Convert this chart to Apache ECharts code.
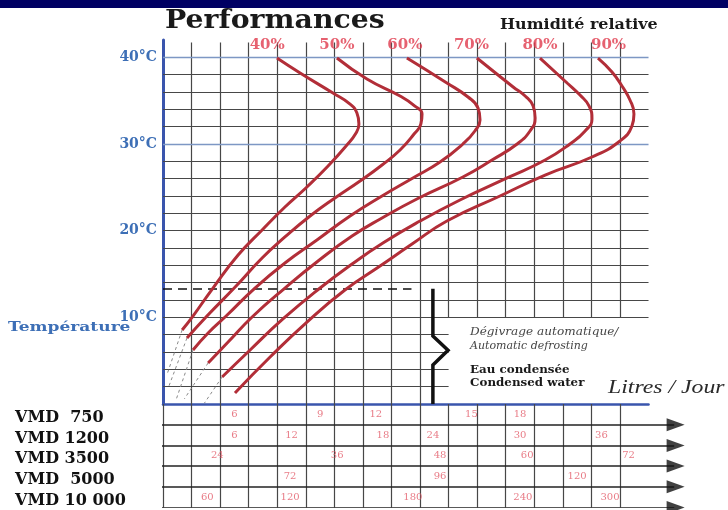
<!DOCTYPE html>
<html><head><meta charset="utf-8">
<script src="https://cdn.jsdelivr.net/npm/echarts@6/dist/echarts.min.js"></script>
<style>html,body{margin:0;padding:0;background:#fff}#c{width:728px;height:510px}</style>
</head><body><div id="c"></div>
<script>
// ---- data ----
const humidity = ['40%', '50%', '60%', '70%', '80%', '90%'];
const humidityLabelX = [3.65, 6.09, 8.47, 10.8, 13.2, 15.6];
// curves: [column (litres/day scale), temperature °C], from the 40 °C start down to the low end
const rh40 = [[3.99,39.92],[4.80,38.19],[5.95,35.88],[6.55,34.61],[6.79,33.58],[6.86,32.31],[6.76,31.27],[6.41,29.77],[5.78,27.46],[5.04,25.04],[4.27,22.73],[3.47,20.08],[2.63,17.19],[1.75,13.38],[1.05,10.15],[0.67,8.54]];
const rh50 = [[6.09,39.92],[7.14,37.50],[8.30,35.54],[8.82,34.38],[9.07,33.46],[9.03,32.31],[8.79,31.15],[8.30,29.31],[7.67,27.58],[6.90,25.73],[6.02,23.77],[5.15,21.69],[4.27,19.27],[3.47,16.85],[2.56,13.61],[1.54,10.15],[0.84,7.62]];
const rh60 = [[8.54,39.92],[9.94,37.04],[10.68,35.42],[11.03,34.15],[11.10,32.77],[10.92,31.50],[10.50,30.00],[9.70,27.92],[8.75,26.08],[7.67,24.00],[6.55,21.69],[5.39,18.92],[4.27,16.27],[3.22,13.38],[2.21,10.15],[1.58,8.19],[1.05,6.23]];
const rh70 = [[10.99,39.92],[12.26,36.58],[12.68,35.54],[12.96,34.38],[13.03,33.00],[12.85,31.50],[12.40,30.00],[11.52,28.15],[10.50,26.19],[8.89,23.65],[7.67,21.46],[6.62,19.38],[5.43,16.50],[4.27,13.38],[3.12,10.04],[2.28,7.15],[1.58,4.73]];
const rh80 = [[13.20,39.92],[14.15,37.04],[14.60,35.65],[14.92,34.38],[15.02,32.88],[14.78,31.50],[14.25,30.00],[13.38,28.15],[12.05,26.08],[10.40,23.54],[9.00,21.11],[7.70,18.58],[6.62,16.15],[5.50,13.38],[4.20,9.81],[3.05,6.23],[2.07,3.12]];
const rh90 = [[15.23,39.92],[15.72,38.31],[16.07,36.69],[16.35,35.08],[16.49,33.46],[16.42,32.08],[16.00,30.35],[15.02,28.50],[13.38,26.42],[11.80,24.00],[9.94,21.11],[8.72,18.46],[7.60,15.92],[6.37,13.15],[5.04,9.46],[3.75,5.42],[2.52,1.27]];
// dashed extrapolations below the curve ends
const ext40 = [[0.67,8.54],[0.15,3.5]];
const ext50 = [[0.84,7.62],[0.2,2.0]];
const ext60 = [[1.05,6.23],[0.45,0.4]];
const ext70 = [[1.58,4.73],[0.75,0.6]];
const ext80 = [[2.07,3.12],[1.45,0.1]];
const tempTicks = [10, 20, 30, 40];
const defrostTemp = 13.3;
// table
const models = ['VMD  750', 'VMD 1200', 'VMD 3500', 'VMD  5000', 'VMD 10 000'];
const litres750 = [6, 9, 12, 15, 18];
const cols750 = [2.5, 5.5, 7.45, 10.8, 12.5];
const litres1200 = [6, 12, 18, 24, 30, 36];
const cols1200 = [2.5, 4.5, 7.7, 9.45, 12.5, 15.35];
const litres3500 = [24, 36, 48, 60, 72];
const cols3500 = [1.9, 6.1, 9.7, 12.75, 16.3];
const litres5000 = [72, 96, 120];
const cols5000 = [4.45, 9.7, 14.5];
const litres10000 = [60, 120, 180, 240, 300];
const cols10000 = [1.55, 4.45, 8.75, 12.6, 15.65];

// ---- chart ----
const U = 28.56; // px per column
const curves = [rh40, rh50, rh60, rh70, rh80, rh90];
const exts = [ext40, ext50, ext60, ext70, ext80];
const tableRows = [[litres750, cols750], [litres1200, cols1200], [litres3500, cols3500], [litres5000, cols5000], [litres10000, cols10000]];

const gridColor = '#474747';
const blue = '#3a55ad';
const gridSegs = [];
for (let c = 1; c <= 16; c++) {
  gridSegs.push({coords: [[c, c <= 9 ? 0 : 10], [c, 41.7]]});
}
for (let t = 2; t <= 40; t += 2) {
  const lw = t % 10 === 0 && t >= 30 ? {color: '#7d97c4', width: 1.4} : {};
  gridSegs.push({coords: [[0, t], [t < 10 ? 10 : 17, t]], lineStyle: lw});
}
const tableSegs = [];
for (let c = 0; c <= 16; c++) tableSegs.push({coords: [[c, 0], [c, 5]]});
for (let r = 1; r <= models.length; r++) tableSegs.push({coords: [[-0.1, r], [17.9, r]], lineStyle: {color: '#222', width: 1.6}});

const series = [];
series.push({type: 'lines', coordinateSystem: 'cartesian2d', xAxisIndex: 0, yAxisIndex: 0, silent: true, z: 1,
  lineStyle: {color: gridColor, width: 1.2, opacity: 1}, data: gridSegs});
series.push({type: 'lines', coordinateSystem: 'cartesian2d', xAxisIndex: 1, yAxisIndex: 2, silent: true, z: 1,
  lineStyle: {color: gridColor, width: 1.2, opacity: 1}, data: tableSegs});
// defrost dashed line and brace
series.push({type: 'lines', coordinateSystem: 'cartesian2d', xAxisIndex: 0, yAxisIndex: 0, silent: true, z: 3,
  lineStyle: {color: '#111', width: 1.6, type: [9, 6], opacity: 1},
  data: [{coords: [[0, defrostTemp], [8.7, defrostTemp]]}]});
series.push({type: 'lines', coordinateSystem: 'cartesian2d', xAxisIndex: 0, yAxisIndex: 0, silent: true, z: 3, polyline: true,
  lineStyle: {color: '#111', width: 3.5, opacity: 1, join: 'miter'},
  data: [{coords: [[9.45, defrostTemp], [9.45, 7.85], [9.98, 6.2], [9.45, 4.5], [9.45, 0]]}]});
// arrows at the end of table rows
series.push({type: 'scatter', xAxisIndex: 1, yAxisIndex: 2, silent: true, z: 4, symbol: 'triangle', symbolRotate: -90,
  symbolSize: [13, 18], itemStyle: {color: '#111'},
  data: models.map((m, i) => [17.95, i + 1])});
// curves
curves.forEach((d, i) => {
  series.push({type: 'line', name: humidity[i], xAxisIndex: 0, yAxisIndex: 0, data: d, smooth: 0.5, showSymbol: false,
    z: 5, lineStyle: {color: '#b22e38', width: 3}, silent: true});
});
exts.forEach((d) => {
  series.push({type: 'line', xAxisIndex: 0, yAxisIndex: 0, data: d, showSymbol: false, z: 4, silent: true,
    lineStyle: {color: '#8a8a8a', width: 1, type: [3, 3]}});
});
// humidity labels
series.push({type: 'scatter', xAxisIndex: 0, yAxisIndex: 0, symbolSize: 0, silent: true, z: 6,
  data: humidity.map((h, i) => ({value: [humidityLabelX[i], 41.4], name: h})),
  label: {show: true, position: 'inside', formatter: p => p.name, color: '#e03a4c', fontSize: 15,
    fontFamily: 'DejaVu Serif', fontWeight: 'bold'}});
// table values
const tableData = [];
tableRows.forEach(([vals, cols], r) => vals.forEach((v, k) => tableData.push([cols[k], r, v])));
series.push({type: 'scatter', xAxisIndex: 1, yAxisIndex: 1, symbolSize: 0, silent: true, z: 6, data: tableData,
  label: {show: true, position: 'inside', formatter: p => String(p.value[2]), color: '#e25a68', fontSize: 10,
    fontFamily: 'DejaVu Serif', padding: [3, 0, 0, 0]}});

const chart = echarts.init(document.getElementById('c'), null, {renderer: 'canvas'});
chart.setOption({
  animation: false,
  backgroundColor: '#fff',
  grid: [
    {left: 163, top: 40, width: 17 * U, height: 364},
    {left: 163, top: 404, width: 18.5 * U, height: 103.5}
  ],
  xAxis: [
    {gridIndex: 0, type: 'value', min: 0, max: 17, axisLine: {show: true, lineStyle: {color: blue, width: 2.5}},
      axisTick: {show: false}, axisLabel: {show: false}, splitLine: {show: false}},
    {gridIndex: 1, type: 'value', min: 0, max: 18.5, show: false, splitLine: {show: false}}
  ],
  yAxis: [
    {gridIndex: 0, type: 'value', min: 0, max: 42, interval: 2,
      axisLine: {show: true, lineStyle: {color: blue, width: 3}}, axisTick: {show: false}, splitLine: {show: false},
      axisLabel: {margin: 6, color: '#3d6fb6', fontSize: 14, fontFamily: 'DejaVu Serif', fontWeight: 'bold',
        formatter: v => tempTicks.indexOf(v) >= 0 ? v + '°C' : ''}},
    {gridIndex: 1, type: 'category', data: models, inverse: true, position: 'left',
      axisLine: {show: false}, axisTick: {show: false}, splitLine: {show: false},
      axisLabel: {interval: 0, align: 'left', margin: 148, color: '#111', fontSize: 16, fontFamily: 'DejaVu Serif', fontWeight: 'bold',
        formatter: v => '{a|' + v + '}', rich: {a: {padding: [7, 0, 0, 0], fontSize: 16, fontFamily: 'DejaVu Serif', fontWeight: 'bold', color: '#111'}}}},
    {gridIndex: 1, type: 'value', min: 0, max: 5, inverse: true, show: false, splitLine: {show: false}}
  ],
  graphic: [
    {type: 'rect', shape: {x: 0, y: 0, width: 728, height: 8}, style: {fill: '#000063'}},
    {type: 'text', x: 165, y: 21, scaleX: 1.09, style: {text: 'Performances', fill: '#1a1a1a',
      font: 'bold 26px "DejaVu Serif"', textAlign: 'left', textVerticalAlign: 'middle'}},
    {type: 'text', x: 500, y: 25, scaleX: 1.14, style: {text: 'Humidité relative', fill: '#1a1a1a',
      font: 'bold 14px "DejaVu Serif"', textAlign: 'left', textVerticalAlign: 'middle'}},
    {type: 'text', x: 8, y: 328, scaleX: 1.42, style: {text: 'Température', fill: '#3d6fb6',
      font: 'bold 12px "DejaVu Serif"', textAlign: 'left', textVerticalAlign: 'middle'}},
    {type: 'text', x: 608, y: 388, scaleX: 1.25, style: {text: 'Litres / Jour', fill: '#2a2a2a',
      font: 'italic 19px "Liberation Serif"', textAlign: 'left', textVerticalAlign: 'middle'}},
    {type: 'text', x: 470, y: 332, scaleX: 1.1, style: {text: 'Dégivrage automatique/', fill: '#444',
      font: 'italic 11px "DejaVu Serif"', textAlign: 'left', textVerticalAlign: 'middle'}},
    {type: 'text', x: 470, y: 346, scaleX: 1.0, style: {text: 'Automatic defrosting', fill: '#444',
      font: 'italic 11px "DejaVu Serif"', textAlign: 'left', textVerticalAlign: 'middle'}},
    {type: 'text', x: 470, y: 370, scaleX: 1.08, style: {text: 'Eau condensée', fill: '#1a1a1a',
      font: 'bold 11px "DejaVu Serif"', textAlign: 'left', textVerticalAlign: 'middle'}},
    {type: 'text', x: 470, y: 383, scaleX: 1.08, style: {text: 'Condensed water', fill: '#1a1a1a',
      font: 'bold 11px "DejaVu Serif"', textAlign: 'left', textVerticalAlign: 'middle'}}
  ],
  series: series
});
</script></body></html>
